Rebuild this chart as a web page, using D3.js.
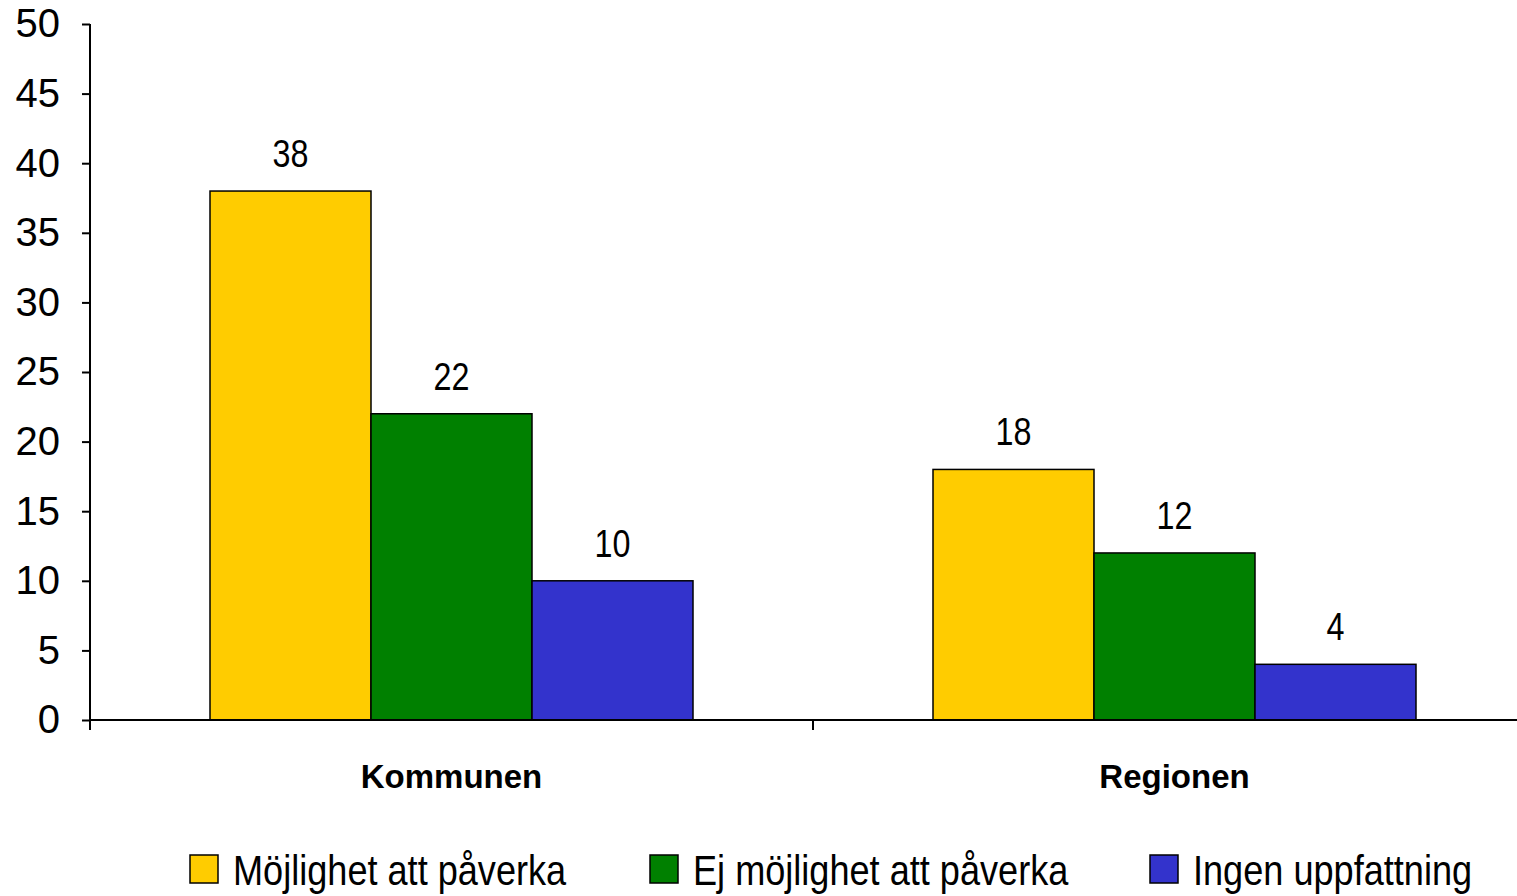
<!DOCTYPE html>
<html>
<head>
<meta charset="utf-8">
<script src="https://cdn.jsdelivr.net/npm/d3@7"></script>
<style>
  body { margin: 0; background: #fff; }
  svg { display: block; }
</style>
</head>
<body>
<div id="chart"></div>
<script>
// data
var categories = ["Kommunen", "Regionen"];
var seriesNames = ["Möjlighet att påverka", "Ej möjlighet att påverka", "Ingen uppfattning"];
var values = [
    [38, 22, 10],   // Kommunen
    [18, 12, 4]     // Regionen
];
var colors = ["#FFCC00", "#008000", "#3333CC"];
var yTicks = [0, 5, 10, 15, 20, 25, 30, 35, 40, 45, 50];

var W = 1517, H = 896;
var margin = {top: 24, left: 90, bottom: 176};
var plotW = 723 * 2, plotH = H - margin.top - margin.bottom;
var narrow = 0.86; // no Arial Narrow installed, squeeze Liberation Sans instead

var svg = d3.select("#chart").append("svg")
    .attr("width", W).attr("height", H)
    .append("g").attr("transform", "translate(" + margin.left + "," + margin.top + ")");

var x0 = d3.scaleBand().domain(categories).range([0, plotW]).paddingInner(0).paddingOuter(0);
var x1 = d3.scaleBand().domain(seriesNames).range([120, x0.bandwidth() - 120]);
var y = d3.scaleLinear().domain([0, 50]).range([plotH, 0]);

// bars
var groups = svg.selectAll(".grp").data(categories).join("g")
    .attr("class", "grp")
    .attr("transform", d => "translate(" + x0(d) + ",0)");

groups.selectAll("rect").data((d, i) => values[i].map((v, j) => ({name: seriesNames[j], v: v, c: colors[j]})))
    .join("rect")
    .attr("x", d => x1(d.name))
    .attr("y", d => y(d.v))
    .attr("width", x1.bandwidth())
    .attr("height", d => plotH - y(d.v))
    .attr("fill", d => d.c)
    .attr("stroke", "#000").attr("stroke-width", 1.5);

groups.selectAll("text.val").data((d, i) => values[i].map((v, j) => ({name: seriesNames[j], v: v})))
    .join("text").attr("class", "val")
    .attr("transform", d => "translate(" + (x1(d.name) + x1.bandwidth() / 2) + "," + (y(d.v) - 24) + ") scale(0.85,1)")
    .attr("text-anchor", "middle")
    .style("font-family", "'Liberation Sans', Arial, sans-serif")
    .style("font-size", "38px")
    .text(d => d.v);

// y axis
var yAxis = svg.append("g")
    .call(d3.axisLeft(y).tickValues(yTicks).tickSize(8).tickPadding(22));
yAxis.select(".domain").attr("stroke-width", 2).attr("d", "M0," + plotH + "V0");
yAxis.selectAll(".tick line").attr("stroke-width", 2);
yAxis.selectAll("text").style("font-family", "'Liberation Sans', Arial, sans-serif").style("font-size", "40px").attr("fill", "#000");

// x axis
var xAxis = svg.append("g").attr("transform", "translate(0," + plotH + ")")
    .call(d3.axisBottom(x0).tickSize(0).tickPadding(45));
xAxis.select(".domain").attr("stroke-width", 2).attr("d", "M0,0H" + plotW);
xAxis.selectAll("text").style("font-family", "'Liberation Sans', Arial, sans-serif")
    .style("font-size", "33px").style("font-weight", "bold").attr("fill", "#000");
// boundary ticks between categories
svg.append("g").selectAll("line").data([0, 1, 2]).join("line")
    .attr("x1", d => d * x0.bandwidth()).attr("x2", d => d * x0.bandwidth())
    .attr("y1", plotH).attr("y2", plotH + 10)
    .attr("stroke", "#000").attr("stroke-width", 2);

// legend
var legendX = [190, 650, 1150];
var legend = d3.select("svg").append("g").selectAll("g").data(seriesNames).join("g")
    .attr("transform", (d, i) => "translate(" + legendX[i] + ",855)");
legend.append("rect").attr("width", 28).attr("height", 28)
    .attr("fill", (d, i) => colors[i]).attr("stroke", "#000").attr("stroke-width", 1.5);
legend.append("text")
    .attr("transform", "translate(43,30) scale(" + narrow + ",1)")
    .style("font-family", "'Liberation Sans', Arial, sans-serif")
    .style("font-size", "42px")
    .text(d => d);
</script>
</body>
</html>
